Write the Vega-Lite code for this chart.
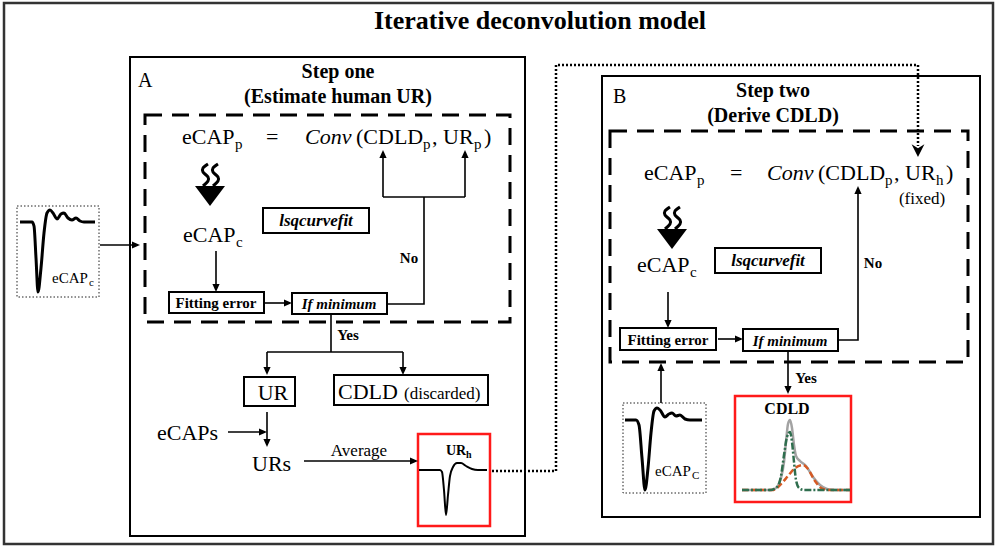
{
  "$schema": "https://vega.github.io/schema/vega-lite/v6.json",
  "width": 997,
  "height": 547,
  "padding": 0,
  "autosize": {"type": "fit", "contains": "padding"},
  "background": "white",
  "config": {"view": {"stroke": null}, "font": "Liberation Serif"},
  "datasets": {
    "boxes": [
      {"id": "outer", "k": "outer", "x": 4, "x2": 993, "y": 3, "y2": 544},
      {"id": "A", "k": "solid", "x": 130, "x2": 525, "y": 57, "y2": 536},
      {"id": "Adash", "k": "dashed", "x": 145, "x2": 510, "y": 115, "y2": 322},
      {"id": "B", "k": "solid", "x": 602, "x2": 980, "y": 76, "y2": 517},
      {"id": "Bdash", "k": "dashed", "x": 610, "x2": 968, "y": 131, "y2": 362},
      {"id": "capA", "k": "dot", "x": 17, "x2": 99, "y": 206, "y2": 297},
      {"id": "lsqA", "k": "solid", "x": 263, "x2": 369, "y": 208, "y2": 233},
      {"id": "fitA", "k": "solid", "x": 169, "x2": 264, "y": 292, "y2": 313},
      {"id": "minA", "k": "solid", "x": 292, "x2": 387, "y": 293, "y2": 314},
      {"id": "UR", "k": "solid", "x": 244, "x2": 295, "y": 377, "y2": 406},
      {"id": "CDLDd", "k": "solid", "x": 334, "x2": 488, "y": 375, "y2": 405},
      {"id": "URh", "k": "red", "x": 418, "x2": 490, "y": 434, "y2": 526},
      {"id": "lsqB", "k": "solid", "x": 715, "x2": 821, "y": 248, "y2": 273},
      {"id": "fitB", "k": "solid", "x": 620, "x2": 716, "y": 328, "y2": 350},
      {"id": "minB", "k": "solid", "x": 743, "x2": 838, "y": 329, "y2": 351},
      {"id": "capB", "k": "dot", "x": 623, "x2": 706, "y": 403, "y2": 493},
      {"id": "CDLDr", "k": "red", "x": 735, "x2": 851, "y": 396, "y2": 502}
    ],
    "paths": [
      {"p": "w1", "k": "wire", "i": 0, "x": 100, "y": 245}, {"p": "w1", "k": "wire", "i": 1, "x": 138, "y": 245},
      {"p": "w2", "k": "wire", "i": 0, "x": 216, "y": 251}, {"p": "w2", "k": "wire", "i": 1, "x": 216, "y": 290},
      {"p": "w3", "k": "wire", "i": 0, "x": 265, "y": 303}, {"p": "w3", "k": "wire", "i": 1, "x": 290, "y": 303},
      {"p": "w4", "k": "wire", "i": 0, "x": 387, "y": 304}, {"p": "w4", "k": "wire", "i": 1, "x": 424, "y": 304}, {"p": "w4", "k": "wire", "i": 2, "x": 424, "y": 197},
      {"p": "w5", "k": "wire", "i": 0, "x": 383, "y": 197}, {"p": "w5", "k": "wire", "i": 1, "x": 465, "y": 197},
      {"p": "w6", "k": "wire", "i": 0, "x": 383, "y": 197}, {"p": "w6", "k": "wire", "i": 1, "x": 383, "y": 152},
      {"p": "w7", "k": "wire", "i": 0, "x": 465, "y": 197}, {"p": "w7", "k": "wire", "i": 1, "x": 465, "y": 152},
      {"p": "w8", "k": "wire", "i": 0, "x": 331, "y": 314}, {"p": "w8", "k": "wire", "i": 1, "x": 331, "y": 352},
      {"p": "w9", "k": "wire", "i": 0, "x": 267, "y": 352}, {"p": "w9", "k": "wire", "i": 1, "x": 403, "y": 352},
      {"p": "w10", "k": "wire", "i": 0, "x": 267, "y": 352}, {"p": "w10", "k": "wire", "i": 1, "x": 267, "y": 372},
      {"p": "w11", "k": "wire", "i": 0, "x": 403, "y": 352}, {"p": "w11", "k": "wire", "i": 1, "x": 403, "y": 372},
      {"p": "w12", "k": "wire", "i": 0, "x": 267, "y": 412}, {"p": "w12", "k": "wire", "i": 1, "x": 267, "y": 445},
      {"p": "w13", "k": "wire", "i": 0, "x": 228, "y": 432}, {"p": "w13", "k": "wire", "i": 1, "x": 265, "y": 432},
      {"p": "w14", "k": "wire", "i": 0, "x": 304, "y": 461}, {"p": "w14", "k": "wire", "i": 1, "x": 416, "y": 461},
      {"p": "w15", "k": "wire", "i": 0, "x": 668, "y": 292}, {"p": "w15", "k": "wire", "i": 1, "x": 668, "y": 326},
      {"p": "w16", "k": "wire", "i": 0, "x": 718, "y": 339}, {"p": "w16", "k": "wire", "i": 1, "x": 741, "y": 339},
      {"p": "w17", "k": "wire", "i": 0, "x": 838, "y": 340}, {"p": "w17", "k": "wire", "i": 1, "x": 858, "y": 340}, {"p": "w17", "k": "wire", "i": 2, "x": 858, "y": 188},
      {"p": "w18", "k": "wire", "i": 0, "x": 788, "y": 351}, {"p": "w18", "k": "wire", "i": 1, "x": 788, "y": 392},
      {"p": "w19", "k": "wire", "i": 0, "x": 661, "y": 403}, {"p": "w19", "k": "wire", "i": 1, "x": 661, "y": 365},
      {"p": "dl", "k": "dl", "i": 0, "x": 492, "y": 471}, {"p": "dl", "k": "dl", "i": 1, "x": 556, "y": 471}, {"p": "dl", "k": "dl", "i": 2, "x": 556, "y": 65}, {"p": "dl", "k": "dl", "i": 3, "x": 918, "y": 65}, {"p": "dl", "k": "dl", "i": 4, "x": 918, "y": 146},
      {"p": "sqA1", "k": "sq", "i": 0, "x": 208, "y": 164}, {"p": "sqA1", "k": "sq", "i": 1, "x": 203, "y": 168}, {"p": "sqA1", "k": "sq", "i": 2, "x": 203, "y": 172}, {"p": "sqA1", "k": "sq", "i": 3, "x": 208, "y": 177}, {"p": "sqA1", "k": "sq", "i": 4, "x": 208, "y": 181}, {"p": "sqA1", "k": "sq", "i": 5, "x": 203, "y": 186},
      {"p": "sqA2", "k": "sq", "i": 0, "x": 218, "y": 164}, {"p": "sqA2", "k": "sq", "i": 1, "x": 213, "y": 168}, {"p": "sqA2", "k": "sq", "i": 2, "x": 213, "y": 172}, {"p": "sqA2", "k": "sq", "i": 3, "x": 218, "y": 177}, {"p": "sqA2", "k": "sq", "i": 4, "x": 218, "y": 181}, {"p": "sqA2", "k": "sq", "i": 5, "x": 213, "y": 186},
      {"p": "sqB1", "k": "sq", "i": 0, "x": 670, "y": 207}, {"p": "sqB1", "k": "sq", "i": 1, "x": 665, "y": 211}, {"p": "sqB1", "k": "sq", "i": 2, "x": 665, "y": 215}, {"p": "sqB1", "k": "sq", "i": 3, "x": 670, "y": 220}, {"p": "sqB1", "k": "sq", "i": 4, "x": 670, "y": 224}, {"p": "sqB1", "k": "sq", "i": 5, "x": 665, "y": 229},
      {"p": "sqB2", "k": "sq", "i": 0, "x": 680, "y": 207}, {"p": "sqB2", "k": "sq", "i": 1, "x": 675, "y": 211}, {"p": "sqB2", "k": "sq", "i": 2, "x": 675, "y": 215}, {"p": "sqB2", "k": "sq", "i": 3, "x": 680, "y": 220}, {"p": "sqB2", "k": "sq", "i": 4, "x": 680, "y": 224}, {"p": "sqB2", "k": "sq", "i": 5, "x": 675, "y": 229},
      {"p": "capA", "k": "cap", "i": 0, "x": 20, "y": 222}, {"p": "capA", "k": "cap", "i": 1, "x": 32, "y": 222}, {"p": "capA", "k": "cap", "i": 2, "x": 34, "y": 226}, {"p": "capA", "k": "cap", "i": 3, "x": 36, "y": 258}, {"p": "capA", "k": "cap", "i": 4, "x": 38, "y": 292}, {"p": "capA", "k": "cap", "i": 5, "x": 41, "y": 268}, {"p": "capA", "k": "cap", "i": 6, "x": 44, "y": 233}, {"p": "capA", "k": "cap", "i": 7, "x": 47, "y": 213}, {"p": "capA", "k": "cap", "i": 8, "x": 50, "y": 210}, {"p": "capA", "k": "cap", "i": 9, "x": 53, "y": 213}, {"p": "capA", "k": "cap", "i": 10, "x": 57, "y": 219}, {"p": "capA", "k": "cap", "i": 11, "x": 61, "y": 214}, {"p": "capA", "k": "cap", "i": 12, "x": 64, "y": 213}, {"p": "capA", "k": "cap", "i": 13, "x": 68, "y": 218}, {"p": "capA", "k": "cap", "i": 14, "x": 72, "y": 220}, {"p": "capA", "k": "cap", "i": 15, "x": 76, "y": 218}, {"p": "capA", "k": "cap", "i": 16, "x": 80, "y": 221}, {"p": "capA", "k": "cap", "i": 17, "x": 84, "y": 222}, {"p": "capA", "k": "cap", "i": 18, "x": 95, "y": 222},
      {"p": "capB", "k": "cap", "i": 0, "x": 625, "y": 420}, {"p": "capB", "k": "cap", "i": 1, "x": 636, "y": 420}, {"p": "capB", "k": "cap", "i": 2, "x": 639, "y": 425}, {"p": "capB", "k": "cap", "i": 3, "x": 642, "y": 458}, {"p": "capB", "k": "cap", "i": 4, "x": 645, "y": 490}, {"p": "capB", "k": "cap", "i": 5, "x": 648, "y": 468}, {"p": "capB", "k": "cap", "i": 6, "x": 651, "y": 433}, {"p": "capB", "k": "cap", "i": 7, "x": 654, "y": 411}, {"p": "capB", "k": "cap", "i": 8, "x": 657, "y": 408}, {"p": "capB", "k": "cap", "i": 9, "x": 660, "y": 410}, {"p": "capB", "k": "cap", "i": 10, "x": 665, "y": 417}, {"p": "capB", "k": "cap", "i": 11, "x": 669, "y": 414}, {"p": "capB", "k": "cap", "i": 12, "x": 672, "y": 413}, {"p": "capB", "k": "cap", "i": 13, "x": 676, "y": 416}, {"p": "capB", "k": "cap", "i": 14, "x": 680, "y": 415}, {"p": "capB", "k": "cap", "i": 15, "x": 685, "y": 419}, {"p": "capB", "k": "cap", "i": 16, "x": 690, "y": 420}, {"p": "capB", "k": "cap", "i": 17, "x": 702, "y": 420},
      {"p": "urh", "k": "urw", "i": 0, "x": 419, "y": 470}, {"p": "urh", "k": "urw", "i": 1, "x": 440, "y": 470}, {"p": "urh", "k": "urw", "i": 2, "x": 442, "y": 472}, {"p": "urh", "k": "urw", "i": 3, "x": 444, "y": 490}, {"p": "urh", "k": "urw", "i": 4, "x": 446, "y": 515}, {"p": "urh", "k": "urw", "i": 5, "x": 448, "y": 495}, {"p": "urh", "k": "urw", "i": 6, "x": 450, "y": 476}, {"p": "urh", "k": "urw", "i": 7, "x": 453, "y": 467}, {"p": "urh", "k": "urw", "i": 8, "x": 457, "y": 463}, {"p": "urh", "k": "urw", "i": 9, "x": 461, "y": 463}, {"p": "urh", "k": "urw", "i": 10, "x": 466, "y": 466}, {"p": "urh", "k": "urw", "i": 11, "x": 472, "y": 469}, {"p": "urh", "k": "urw", "i": 12, "x": 478, "y": 470}, {"p": "urh", "k": "urw", "i": 13, "x": 487, "y": 470},
      {"p": "gray", "k": "gray", "i": 0, "x": 742, "y": 490}, {"p": "gray", "k": "gray", "i": 1, "x": 772, "y": 490}, {"p": "gray", "k": "gray", "i": 2, "x": 777, "y": 487}, {"p": "gray", "k": "gray", "i": 3, "x": 781, "y": 478}, {"p": "gray", "k": "gray", "i": 4, "x": 784, "y": 462}, {"p": "gray", "k": "gray", "i": 5, "x": 786, "y": 442}, {"p": "gray", "k": "gray", "i": 6, "x": 788, "y": 424}, {"p": "gray", "k": "gray", "i": 7, "x": 790, "y": 420}, {"p": "gray", "k": "gray", "i": 8, "x": 792, "y": 428}, {"p": "gray", "k": "gray", "i": 9, "x": 794, "y": 445}, {"p": "gray", "k": "gray", "i": 10, "x": 796, "y": 456}, {"p": "gray", "k": "gray", "i": 11, "x": 800, "y": 461}, {"p": "gray", "k": "gray", "i": 12, "x": 806, "y": 466}, {"p": "gray", "k": "gray", "i": 13, "x": 813, "y": 477}, {"p": "gray", "k": "gray", "i": 14, "x": 820, "y": 485}, {"p": "gray", "k": "gray", "i": 15, "x": 827, "y": 489}, {"p": "gray", "k": "gray", "i": 16, "x": 835, "y": 490}, {"p": "gray", "k": "gray", "i": 17, "x": 850, "y": 490},
      {"p": "orange", "k": "orange", "i": 0, "x": 742, "y": 490}, {"p": "orange", "k": "orange", "i": 1, "x": 772, "y": 490}, {"p": "orange", "k": "orange", "i": 2, "x": 777, "y": 488}, {"p": "orange", "k": "orange", "i": 3, "x": 782, "y": 483}, {"p": "orange", "k": "orange", "i": 4, "x": 788, "y": 476}, {"p": "orange", "k": "orange", "i": 5, "x": 795, "y": 468}, {"p": "orange", "k": "orange", "i": 6, "x": 803, "y": 465}, {"p": "orange", "k": "orange", "i": 7, "x": 808, "y": 469}, {"p": "orange", "k": "orange", "i": 8, "x": 815, "y": 481}, {"p": "orange", "k": "orange", "i": 9, "x": 823, "y": 489}, {"p": "orange", "k": "orange", "i": 10, "x": 830, "y": 490}, {"p": "orange", "k": "orange", "i": 11, "x": 850, "y": 490},
      {"p": "green", "k": "green", "i": 0, "x": 742, "y": 490}, {"p": "green", "k": "green", "i": 1, "x": 770, "y": 490}, {"p": "green", "k": "green", "i": 2, "x": 777, "y": 487}, {"p": "green", "k": "green", "i": 3, "x": 781, "y": 476}, {"p": "green", "k": "green", "i": 4, "x": 784, "y": 455}, {"p": "green", "k": "green", "i": 5, "x": 787, "y": 437}, {"p": "green", "k": "green", "i": 6, "x": 790, "y": 432}, {"p": "green", "k": "green", "i": 7, "x": 792, "y": 442}, {"p": "green", "k": "green", "i": 8, "x": 794, "y": 462}, {"p": "green", "k": "green", "i": 9, "x": 796, "y": 480}, {"p": "green", "k": "green", "i": 10, "x": 799, "y": 488}, {"p": "green", "k": "green", "i": 11, "x": 804, "y": 490}, {"p": "green", "k": "green", "i": 12, "x": 850, "y": 490}
    ],
    "heads": [
      {"k": "w", "dir": "right", "x": 140, "y": 245},
      {"k": "w", "dir": "down", "x": 216, "y": 292},
      {"k": "w", "dir": "right", "x": 292, "y": 303},
      {"k": "w", "dir": "up", "x": 383, "y": 150},
      {"k": "w", "dir": "up", "x": 465, "y": 150},
      {"k": "w", "dir": "down", "x": 267, "y": 375},
      {"k": "w", "dir": "down", "x": 403, "y": 375},
      {"k": "w", "dir": "down", "x": 267, "y": 447},
      {"k": "w", "dir": "right", "x": 267, "y": 432},
      {"k": "w", "dir": "right", "x": 418, "y": 461},
      {"k": "w", "dir": "down", "x": 668, "y": 328},
      {"k": "w", "dir": "right", "x": 743, "y": 339},
      {"k": "w", "dir": "up", "x": 858, "y": 186},
      {"k": "w", "dir": "down", "x": 788, "y": 394},
      {"k": "w", "dir": "up", "x": 661, "y": 363},
      {"k": "d", "dir": "down", "x": 918, "y": 157}
    ],
    "tri": [
      {"id": "A", "x": 210, "y": 196},
      {"id": "B", "x": 672, "y": 239}
    ],
    "texts": [
      {"t": "Iterative deconvolution model", "x": 540, "y": 29, "r": "title", "s": "bc"},
      {"t": "Step one", "x": 338, "y": 78, "r": "head", "s": "bc"},
      {"t": "(Estimate human UR)", "x": 338, "y": 103, "r": "head", "s": "bc"},
      {"t": "A", "x": 138, "y": 87, "r": "letter", "s": "rl"},
      {"t": "eCAP", "x": 182, "y": 144, "r": "eq", "s": "rl"},
      {"t": "p", "x": 235, "y": 149, "r": "eqsub", "s": "rl"},
      {"t": "=", "x": 266, "y": 144, "r": "eq", "s": "rl"},
      {"t": "Conv", "x": 305, "y": 144, "r": "eq", "s": "il"},
      {"t": "(CDLD", "x": 356, "y": 144, "r": "eq", "s": "rl"},
      {"t": "p", "x": 423, "y": 149, "r": "eqsub", "s": "rl"},
      {"t": ", UR", "x": 432, "y": 144, "r": "eq", "s": "rl"},
      {"t": "p", "x": 474, "y": 149, "r": "eqsub", "s": "rl"},
      {"t": ")", "x": 484, "y": 144, "r": "eq", "s": "rl"},
      {"t": "eCAP", "x": 183, "y": 242, "r": "eq", "s": "rl"},
      {"t": "c", "x": 236, "y": 247, "r": "eqsub", "s": "rl"},
      {"t": "lsqcurvefit", "x": 316, "y": 226, "r": "lsq", "s": "bic"},
      {"t": "Fitting error", "x": 216, "y": 308, "r": "lab", "s": "bc"},
      {"t": "If minimum", "x": 339, "y": 309, "r": "fit", "s": "bic"},
      {"t": "No", "x": 409, "y": 263, "r": "lab", "s": "bc"},
      {"t": "Yes", "x": 348, "y": 340, "r": "lab", "s": "bc"},
      {"t": "UR", "x": 273, "y": 400, "r": "big", "s": "rc"},
      {"t": "CDLD", "x": 338, "y": 399, "r": "big", "s": "rl"},
      {"t": "(discarded)", "x": 404, "y": 399, "r": "mid", "s": "rl"},
      {"t": "eCAPs", "x": 157, "y": 440, "r": "big", "s": "rl"},
      {"t": "URs", "x": 252, "y": 471, "r": "big", "s": "rl"},
      {"t": "Average", "x": 359, "y": 456, "r": "mid", "s": "rc"},
      {"t": "UR", "x": 446, "y": 455, "r": "urh", "s": "bl"},
      {"t": "h", "x": 466, "y": 458, "r": "urhsub", "s": "bl"},
      {"t": "eCAP", "x": 52, "y": 283, "r": "small", "s": "rl"},
      {"t": "c", "x": 89, "y": 286, "r": "tiny", "s": "rl"},
      {"t": "B", "x": 613, "y": 103, "r": "letter", "s": "rl"},
      {"t": "Step two", "x": 773, "y": 97, "r": "head", "s": "bc"},
      {"t": "(Derive CDLD)", "x": 773, "y": 122, "r": "head", "s": "bc"},
      {"t": "eCAP", "x": 644, "y": 180, "r": "eq", "s": "rl"},
      {"t": "p", "x": 697, "y": 185, "r": "eqsub", "s": "rl"},
      {"t": "=", "x": 730, "y": 180, "r": "eq", "s": "rl"},
      {"t": "Conv", "x": 767, "y": 180, "r": "eq", "s": "il"},
      {"t": "(CDLD", "x": 818, "y": 180, "r": "eq", "s": "rl"},
      {"t": "p", "x": 885, "y": 185, "r": "eqsub", "s": "rl"},
      {"t": ", UR", "x": 894, "y": 180, "r": "eq", "s": "rl"},
      {"t": "h", "x": 936, "y": 185, "r": "eqsub", "s": "rl"},
      {"t": ")", "x": 946, "y": 180, "r": "eq", "s": "rl"},
      {"t": "(fixed)", "x": 922, "y": 204, "r": "mid", "s": "rc"},
      {"t": "eCAP", "x": 637, "y": 272, "r": "eq", "s": "rl"},
      {"t": "c", "x": 690, "y": 277, "r": "eqsub", "s": "rl"},
      {"t": "lsqcurvefit", "x": 768, "y": 266, "r": "lsq", "s": "bic"},
      {"t": "No", "x": 873, "y": 268, "r": "lab", "s": "bc"},
      {"t": "Fitting error", "x": 668, "y": 345, "r": "lab", "s": "bc"},
      {"t": "If minimum", "x": 790, "y": 346, "r": "fit", "s": "bic"},
      {"t": "Yes", "x": 806, "y": 383, "r": "lab", "s": "bc"},
      {"t": "eCAP", "x": 655, "y": 476, "r": "small", "s": "rl"},
      {"t": "C", "x": 692, "y": 479, "r": "tiny", "s": "rl"},
      {"t": "CDLD", "x": 787, "y": 414, "r": "cdld", "s": "bc"}
    ]
  },
  "encoding": {
    "x": {"field": "x", "type": "quantitative", "scale": {"domain": [0, 997], "nice": false, "zero": false}, "axis": null},
    "y": {"field": "y", "type": "quantitative", "scale": {"domain": [0, 547], "nice": false, "zero": false, "reverse": true}, "axis": null}
  },
  "layer": [
    {"data": {"name": "boxes"}, "transform": [{"filter": "datum.k == 'outer'"}], "mark": {"type": "rect", "filled": false, "stroke": "#333", "strokeWidth": 2.5}, "encoding": {"x2": {"field": "x2"}, "y2": {"field": "y2"}}},
    {"data": {"name": "boxes"}, "transform": [{"filter": "datum.k == 'solid'"}], "mark": {"type": "rect", "filled": false, "stroke": "#000", "strokeWidth": 2}, "encoding": {"x2": {"field": "x2"}, "y2": {"field": "y2"}}},
    {"data": {"name": "boxes"}, "transform": [{"filter": "datum.k == 'dashed'"}], "mark": {"type": "rect", "filled": false, "stroke": "#000", "strokeWidth": 3, "strokeDash": [17, 10]}, "encoding": {"x2": {"field": "x2"}, "y2": {"field": "y2"}}},
    {"data": {"name": "boxes"}, "transform": [{"filter": "datum.k == 'dot'"}], "mark": {"type": "rect", "filled": false, "stroke": "#222", "strokeWidth": 1, "strokeDash": [1.5, 2]}, "encoding": {"x2": {"field": "x2"}, "y2": {"field": "y2"}}},
    {"data": {"name": "boxes"}, "transform": [{"filter": "datum.k == 'red'"}], "mark": {"type": "rect", "filled": false, "stroke": "#ff1a1a", "strokeWidth": 2.5}, "encoding": {"x2": {"field": "x2"}, "y2": {"field": "y2"}}},
    {"data": {"name": "paths"}, "transform": [{"filter": "datum.k == 'wire'"}], "mark": {"type": "line", "color": "#000", "strokeWidth": 1.6}, "encoding": {"detail": {"field": "p"}, "order": {"field": "i", "type": "quantitative"}}},
    {"data": {"name": "paths"}, "transform": [{"filter": "datum.k == 'dl'"}], "mark": {"type": "line", "color": "#000", "strokeWidth": 2.5, "strokeDash": [2, 2]}, "encoding": {"detail": {"field": "p"}, "order": {"field": "i", "type": "quantitative"}}},
    {"data": {"name": "paths"}, "transform": [{"filter": "datum.k == 'sq'"}], "mark": {"type": "line", "color": "#000", "strokeWidth": 3, "interpolate": "cardinal"}, "encoding": {"detail": {"field": "p"}, "order": {"field": "i", "type": "quantitative"}}},
    {"data": {"name": "paths"}, "transform": [{"filter": "datum.k == 'cap'"}], "mark": {"type": "line", "color": "#000", "strokeWidth": 3, "interpolate": "monotone"}, "encoding": {"detail": {"field": "p"}, "order": {"field": "i", "type": "quantitative"}}},
    {"data": {"name": "paths"}, "transform": [{"filter": "datum.k == 'urw'"}], "mark": {"type": "line", "color": "#000", "strokeWidth": 2, "interpolate": "monotone"}, "encoding": {"detail": {"field": "p"}, "order": {"field": "i", "type": "quantitative"}}},
    {"data": {"name": "paths"}, "transform": [{"filter": "datum.k == 'gray'"}], "mark": {"type": "line", "color": "#a3a3a3", "strokeWidth": 2.5, "interpolate": "monotone"}, "encoding": {"detail": {"field": "p"}, "order": {"field": "i", "type": "quantitative"}}},
    {"data": {"name": "paths"}, "transform": [{"filter": "datum.k == 'orange'"}], "mark": {"type": "line", "color": "#d65a24", "strokeWidth": 2.5, "strokeDash": [6, 3], "interpolate": "monotone"}, "encoding": {"detail": {"field": "p"}, "order": {"field": "i", "type": "quantitative"}}},
    {"data": {"name": "paths"}, "transform": [{"filter": "datum.k == 'green'"}], "mark": {"type": "line", "color": "#2f6e4e", "strokeWidth": 2.5, "strokeDash": [7, 2, 2, 2], "interpolate": "monotone"}, "encoding": {"detail": {"field": "p"}, "order": {"field": "i", "type": "quantitative"}}},
    {"data": {"name": "heads"}, "transform": [{"filter": "datum.k == 'w'"}], "mark": {"type": "point", "filled": true, "color": "#000", "opacity": 1, "size": 64, "strokeWidth": 0}, "encoding": {"shape": {"field": "dir", "type": "nominal", "scale": {"domain": ["down", "up", "right"], "range": ["M-0.9,-2L0.9,-2L0,0Z", "M-0.9,2L0.9,2L0,0Z", "M-2,-0.9L-2,0.9L0,0Z"]}, "legend": null}}},
    {"data": {"name": "heads"}, "transform": [{"filter": "datum.k == 'd'"}], "mark": {"type": "point", "filled": true, "color": "#000", "opacity": 1, "size": 64, "strokeWidth": 0, "shape": "M-1.6,-3.2L0,-2.2L1.6,-3.2L0,0Z"}},
    {"data": {"name": "tri"}, "mark": {"type": "point", "filled": true, "color": "#000", "opacity": 1, "size": 900, "strokeWidth": 0, "shape": "M-1,-0.67L1,-0.67L0,0.67Z"}},
    {"data": {"name": "texts"}, "transform": [{"filter": "datum.s == 'bc'"}], "mark": {"type": "text", "font": "Liberation Serif", "fontWeight": "bold", "align": "center", "baseline": "alphabetic", "color": "#000"}, "encoding": {"text": {"field": "t"}, "size": {"field": "r", "type": "ordinal", "scale": {"type": "ordinal", "domain": ["title", "head", "letter", "eq", "eqsub", "lab", "fit", "lsq", "big", "mid", "urh", "urhsub", "small", "tiny", "cdld"], "range": [26, 20, 20, 22, 15, 15, 15, 17, 22, 17, 14, 10, 15, 11, 16]}, "legend": null}}},
    {"data": {"name": "texts"}, "transform": [{"filter": "datum.s == 'bl'"}], "mark": {"type": "text", "font": "Liberation Serif", "fontWeight": "bold", "align": "left", "baseline": "alphabetic", "color": "#000"}, "encoding": {"text": {"field": "t"}, "size": {"field": "r", "type": "ordinal", "scale": {"type": "ordinal", "domain": ["title", "head", "letter", "eq", "eqsub", "lab", "fit", "lsq", "big", "mid", "urh", "urhsub", "small", "tiny", "cdld"], "range": [26, 20, 20, 22, 15, 15, 15, 17, 22, 17, 14, 10, 15, 11, 16]}, "legend": null}}},
    {"data": {"name": "texts"}, "transform": [{"filter": "datum.s == 'bic'"}], "mark": {"type": "text", "font": "Liberation Serif", "fontWeight": "bold", "fontStyle": "italic", "align": "center", "baseline": "alphabetic", "color": "#000"}, "encoding": {"text": {"field": "t"}, "size": {"field": "r", "type": "ordinal", "scale": {"type": "ordinal", "domain": ["title", "head", "letter", "eq", "eqsub", "lab", "fit", "lsq", "big", "mid", "urh", "urhsub", "small", "tiny", "cdld"], "range": [26, 20, 20, 22, 15, 15, 15, 17, 22, 17, 14, 10, 15, 11, 16]}, "legend": null}}},
    {"data": {"name": "texts"}, "transform": [{"filter": "datum.s == 'rl'"}], "mark": {"type": "text", "font": "Liberation Serif", "align": "left", "baseline": "alphabetic", "color": "#000"}, "encoding": {"text": {"field": "t"}, "size": {"field": "r", "type": "ordinal", "scale": {"type": "ordinal", "domain": ["title", "head", "letter", "eq", "eqsub", "lab", "fit", "lsq", "big", "mid", "urh", "urhsub", "small", "tiny", "cdld"], "range": [26, 20, 20, 22, 15, 15, 15, 17, 22, 17, 14, 10, 15, 11, 16]}, "legend": null}}},
    {"data": {"name": "texts"}, "transform": [{"filter": "datum.s == 'rc'"}], "mark": {"type": "text", "font": "Liberation Serif", "align": "center", "baseline": "alphabetic", "color": "#000"}, "encoding": {"text": {"field": "t"}, "size": {"field": "r", "type": "ordinal", "scale": {"type": "ordinal", "domain": ["title", "head", "letter", "eq", "eqsub", "lab", "fit", "lsq", "big", "mid", "urh", "urhsub", "small", "tiny", "cdld"], "range": [26, 20, 20, 22, 15, 15, 15, 17, 22, 17, 14, 10, 15, 11, 16]}, "legend": null}}},
    {"data": {"name": "texts"}, "transform": [{"filter": "datum.s == 'il'"}], "mark": {"type": "text", "font": "Liberation Serif", "fontStyle": "italic", "align": "left", "baseline": "alphabetic", "color": "#000"}, "encoding": {"text": {"field": "t"}, "size": {"field": "r", "type": "ordinal", "scale": {"type": "ordinal", "domain": ["title", "head", "letter", "eq", "eqsub", "lab", "fit", "lsq", "big", "mid", "urh", "urhsub", "small", "tiny", "cdld"], "range": [26, 20, 20, 22, 15, 15, 15, 17, 22, 17, 14, 10, 15, 11, 16]}, "legend": null}}}
  ]
}
